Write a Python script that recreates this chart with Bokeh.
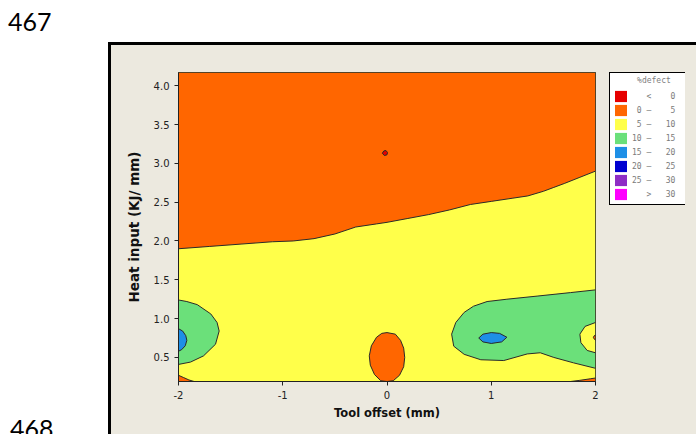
import math
from bokeh.plotting import figure
from bokeh.models import (Range1d, FixedTicker, ColumnDataSource, Legend, LegendItem,
                          Div, Spacer)
from bokeh.layouts import column, row
from bokeh.embed import file_html
from bokeh.resources import INLINE

# ---------------- data ----------------
level_edges = [0, 5, 10, 15, 20, 25, 30]
level_colors = ["#E60000", "#FF6600", "#FFFF4A", "#6BE07A",
                "#1E8FE6", "#0000D0", "#8E2DC5", "#FF00FF"]
legend_title = "%defect"

x_ticks = [-2, -1, 0, 1, 2]
x_tick_labels = ["-2", "-1", "0", "1", "2"]
y_ticks = [0.5, 1.0, 1.5, 2.0, 2.5, 3.0, 3.5, 4.0]
y_tick_labels = ["0.5", "1.0", "1.5", "2.0", "2.5", "3.0", "3.5", "4.0"]

x_limits = (-2.0, 2.0)      # Tool offset (mm)
y_limits = (0.19, 4.17)     # Heat input (KJ/mm)

page_numbers = ["467", "468"]

# contour boundaries (data units)
# 0-5 / 5-10 boundary (orange region above it)
orange_top_x = [-2.0, -1.7, -1.4, -1.1, -0.9, -0.7, -0.5, -0.3, -0.1, 0.0, 0.2, 0.4,
                0.6, 0.8, 1.0, 1.2, 1.35, 1.5, 1.6, 1.7, 1.85, 2.0]
orange_top_y = [1.90, 1.93, 1.96, 1.99, 2.00, 2.03, 2.09, 2.18, 2.22, 2.24, 2.29, 2.34,
                2.40, 2.47, 2.51, 2.55, 2.58, 2.64, 2.69, 2.74, 2.82, 2.90]
# small < 0 spot
red_spot_x = [-0.045, -0.03, -0.01, 0.005, 0.0, -0.025]
red_spot_y = [3.13, 3.16, 3.165, 3.14, 3.11, 3.10]
# 10-15 region on the left edge
green_left_x = [-2.0, -1.92, -1.82, -1.69, -1.63, -1.61, -1.645, -1.76, -1.885, -2.0]
green_left_y = [1.24, 1.22, 1.18, 1.06, 0.95, 0.84, 0.67, 0.52, 0.44, 0.41]
# 15-20 region on the left edge
blue_left_x = [-2.0, -1.96, -1.93, -1.92, -1.935, -1.97, -2.0]
blue_left_y = [0.87, 0.84, 0.78, 0.72, 0.65, 0.60, 0.58]
# 0-5 corner bottom left
orange_bl_x = [-2.0, -1.95, -1.9, -1.85]
orange_bl_y = [0.27, 0.24, 0.21, 0.19]
# 0-5 island at zero offset
orange_mid_x = [0.0, 0.08, 0.13, 0.16, 0.17, 0.16, 0.12, 0.06, 0.0, -0.06, -0.12,
                -0.16, -0.17, -0.15, -0.10, -0.05]
orange_mid_y = [0.82, 0.80, 0.72, 0.62, 0.50, 0.38, 0.27, 0.20, 0.19, 0.20, 0.28,
                0.40, 0.52, 0.65, 0.76, 0.81]
# 10-15 region on the right
green_right_x = [2.0, 1.76, 1.44, 1.15, 0.96, 0.83, 0.74, 0.66, 0.62, 0.64, 0.74,
                 0.90, 1.12, 1.345, 1.47, 1.6, 1.79, 2.0]
green_right_y = [1.37, 1.335, 1.29, 1.25, 1.22, 1.16, 1.08, 0.95, 0.80, 0.645, 0.54,
                 0.47, 0.46, 0.545, 0.56, 0.50, 0.43, 0.36]
# 15-20 island on the right
blue_right_x = [0.88, 0.92, 1.0, 1.08, 1.15, 1.10, 1.0, 0.92]
blue_right_y = [0.75, 0.80, 0.82, 0.81, 0.76, 0.70, 0.68, 0.70]
# 5-10 hole at the right edge
yellow_right_x = [2.0, 1.90, 1.85, 1.86, 1.92, 2.0]
yellow_right_y = [0.95, 0.90, 0.80, 0.69, 0.59, 0.56]
# tiny 0-5 spot on the right edge
orange_edge_x = [2.0, 1.985, 1.98, 1.99, 2.0]
orange_edge_y = [0.79, 0.775, 0.755, 0.735, 0.72]
# 0-5 sliver bottom right
orange_br_x = [1.76, 1.85, 1.95, 2.0]
orange_br_y = [0.19, 0.205, 0.225, 0.235]

# ---------------- main figure ----------------
beige = "#ECE9DF"
FH = 389
BT, BB = 27, 53   # shared top / bottom borders of the two figures in the row
p = figure(width=489, height=FH, output_backend="svg", toolbar_location=None,
           x_range=Range1d(*x_limits), y_range=Range1d(*y_limits),
           min_border_left=67, min_border_right=5, min_border_top=BT,
           min_border_bottom=BB)
p.border_fill_color = beige
p.background_fill_color = level_colors[2]
p.outline_line_color = "#222222"
p.outline_line_width = 1
p.xgrid.visible = False
p.ygrid.visible = False

# base level (5-10)
p.quad(left=[x_limits[0]], right=[x_limits[1]], bottom=[y_limits[0]], top=[y_limits[1]],
       fill_color=level_colors[2], line_color=None)

xmin, xmax = x_limits
ymin, ymax = y_limits
regions = [
    (orange_top_x + [xmax, xmin], orange_top_y + [ymax, ymax], level_colors[1]),
    (red_spot_x, red_spot_y, level_colors[0]),
    (green_left_x, green_left_y, level_colors[3]),
    (blue_left_x, blue_left_y, level_colors[4]),
    (orange_bl_x + [xmin], orange_bl_y + [ymin], level_colors[1]),
    (orange_mid_x, orange_mid_y, level_colors[1]),
    (green_right_x, green_right_y, level_colors[3]),
    (blue_right_x, blue_right_y, level_colors[4]),
    (yellow_right_x, yellow_right_y, level_colors[2]),
    (orange_edge_x, orange_edge_y, level_colors[1]),
    (orange_br_x + [xmax], orange_br_y + [ymin], level_colors[1]),
]
src = ColumnDataSource(dict(xs=[r[0] for r in regions], ys=[r[1] for r in regions],
                            c=[r[2] for r in regions]))
p.patches("xs", "ys", source=src, fill_color="c", line_color="#2a2a2a", line_width=1)

p.xaxis.ticker = FixedTicker(ticks=x_ticks)
p.yaxis.ticker = FixedTicker(ticks=y_ticks)
p.xaxis.major_label_overrides = {t: l for t, l in zip(x_ticks, x_tick_labels)}
p.yaxis.major_label_overrides = {t: l for t, l in zip(y_ticks, y_tick_labels)}
p.xaxis.axis_label = "Tool offset (mm)"
p.yaxis.axis_label = "Heat input (KJ/ mm)"
for ax in (p.xaxis, p.yaxis):
    ax.major_tick_in = 0
    ax.major_tick_out = 4
    ax.minor_tick_line_color = None
    ax.axis_line_color = "#222222"
    ax.major_tick_line_color = "#222222"
    ax.major_label_text_font = "DejaVu Sans"
    ax.major_label_text_font_size = "10px"
    ax.major_label_text_color = "#222222"
    ax.major_label_standoff = 5
    ax.axis_label_text_font = "DejaVu Sans"
    ax.axis_label_text_font_style = "bold"
    ax.axis_label_text_color = "#111111"
p.xaxis.axis_label_text_font_size = "11.5px"
p.yaxis.axis_label_text_font_size = "13.5px"
p.xaxis.axis_label_standoff = 4
p.yaxis.axis_label_standoff = 9

# ---------------- legend (own small figure beside the chart) ----------------
lg = figure(width=96, height=FH, output_backend="svg", toolbar_location=None,
            x_axis_location=None, y_axis_location=None,
            x_range=Range1d(0, 1), y_range=Range1d(0, 1),
            min_border_left=9, min_border_right=11, min_border_top=BT,
            min_border_bottom=BB)
lg.border_fill_color = beige
lg.background_fill_color = beige
lg.outline_line_color = None
lg.xgrid.visible = False
lg.ygrid.visible = False


def fmt(a, sym, b):
    return f"{str(a):>2} {sym}   {str(b):>2}".replace(" ", "\u00a0")


legend_labels = [fmt("", "<", level_edges[0])]
legend_labels += [fmt(a, "\u2013", b) for a, b in zip(level_edges[:-1], level_edges[1:])]
legend_labels += [fmt("", ">", level_edges[-1])]

items = []
nan = math.nan
for col, lab in zip(level_colors, legend_labels):
    r = lg.quad(left=[nan], right=[nan], top=[nan], bottom=[nan],
                fill_color=col, line_color=None)
    items.append(LegendItem(label=lab, renderers=[r]))

legend = Legend(items=items, location="top_left",
                title="\u00a0" * 5 + legend_title,
                title_text_font="DejaVu Sans Mono", title_text_font_size="8px",
                title_text_font_style="normal", title_text_color="#808080",
                title_standoff=4,
                label_text_font="DejaVu Sans Mono", label_text_font_size="8px",
                label_text_color="#7a7a7a",
                glyph_width=15, glyph_height=14, label_height=14, label_width=51,
                label_standoff=4, spacing=0, padding=3, margin=0,
                border_line_color="black", border_line_width=1, border_line_alpha=1,
                background_fill_color="white", background_fill_alpha=1)
lg.add_layout(legend)

# ---------------- page around the chart ----------------
num_style = "font-family:Lato;font-size:25px;line-height:25px;color:black;"
top_div = Div(width=696, height=42, margin=0,
              text=f'<div style="{num_style}margin:9px 0 0 8px;">{page_numbers[0]}</div>')
left_div = Div(width=108, height=FH, margin=0,
               styles={"background-color": "white"},
               text=(f'<div style="height:{FH}px;overflow:hidden;">'
                     f'<div style="{num_style}margin:371px 0 0 10px;">{page_numbers[1]}</div></div>'))
hline = Div(width=696 - 108, height=3, margin=0, text="",
            styles={"background-color": "black"})
vline = Div(width=3, height=FH, margin=0, text="",
            styles={"background-color": "black"})

layout = column(
    top_div,
    row(Spacer(width=108, height=3, margin=0), hline, spacing=0),
    row(left_div, vline, p, lg, spacing=0, styles={"background-color": beige}),
    spacing=0,
)

open("out.html", "w").write(file_html(layout, INLINE))
